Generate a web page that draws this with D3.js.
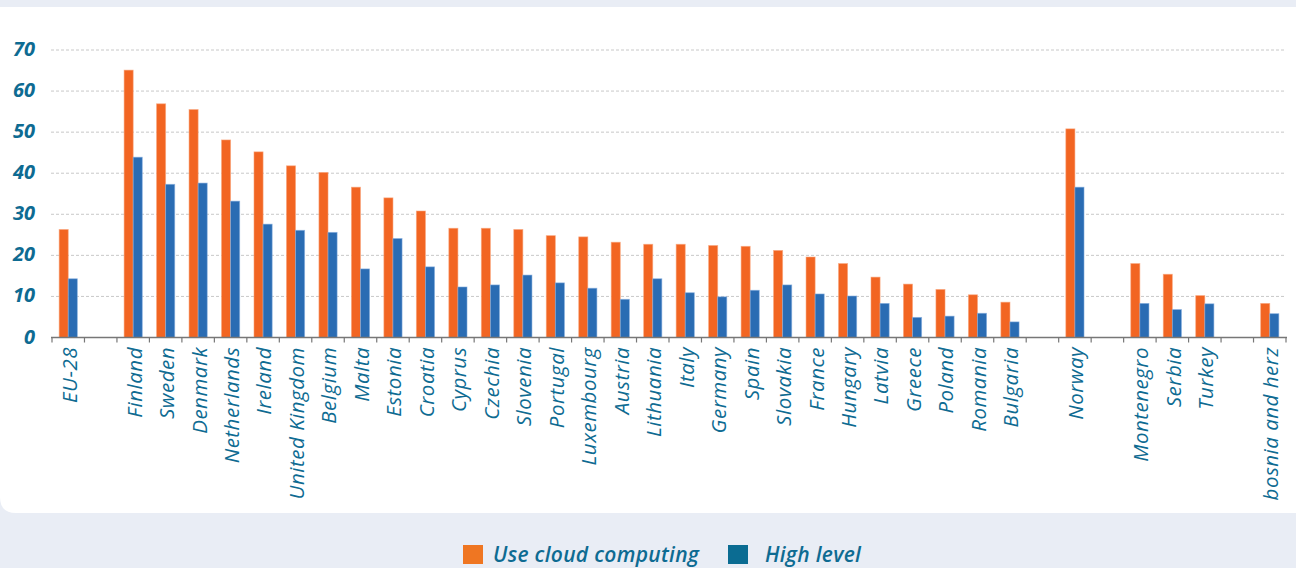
<!DOCTYPE html>
<html>
<head>
<meta charset="utf-8">
<script src="https://cdn.jsdelivr.net/npm/d3@7"></script>
<style>
  html, body { margin: 0; padding: 0; background: #e9edf5; }
  svg { display: block; font-family: "Open Sans", "Noto Sans", sans-serif; }
</style>
</head>
<body>
<svg id="chart" width="1296" height="568"></svg>
<script>
// categories ("" entries are the empty separator slots)
const categories = [
  'EU-28', '',
  'Finland', 'Sweden', 'Denmark', 'Netherlands', 'Ireland', 'United Kingdom',
  'Belgium', 'Malta', 'Estonia', 'Croatia', 'Cyprus', 'Czechia', 'Slovenia',
  'Portugal', 'Luxembourg', 'Austria', 'Lithuania', 'Italy', 'Germany', 'Spain',
  'Slovakia', 'France', 'Hungary', 'Latvia', 'Greece', 'Poland', 'Romania',
  'Bulgaria', '', 'Norway', '', 'Montenegro', 'Serbia', 'Turkey', '',
  'bosnia and herz'
];

const cloudValues = [
  26.3, null,
  65.1, 56.9, 55.5, 48.1, 45.2, 41.8,
  40.2, 36.6, 34.0, 30.8, 26.6, 26.6, 26.3,
  24.8, 24.5, 23.2, 22.7, 22.7, 22.4, 22.2,
  21.2, 19.6, 18.0, 14.7, 13.0, 11.7, 10.4,
  8.6, null, 50.8, null, 18.0, 15.4, 10.2, null,
  8.3
];

const highValues = [
  14.3, null,
  43.9, 37.3, 37.6, 33.2, 27.6, 26.1,
  25.6, 16.7, 24.1, 17.2, 12.3, 12.8, 15.2,
  13.3, 12.0, 9.3, 14.3, 10.9, 9.9, 11.5,
  12.8, 10.6, 10.1, 8.3, 4.9, 5.2, 5.9,
  3.8, null, 36.6, null, 8.3, 6.8, 8.2, null,
  5.8
];

const yTicks = [0, 10, 20, 30, 40, 50, 60, 70];
const seriesNames = ['Use cloud computing', 'High level'];

const textColor = '#0e6b92';
const barColors = ['#f26522', '#2a6cb3'];
const legendColors = ['#ef7622', '#0b6c92'];

const svg = d3.select('#chart');

// white panel with a rounded bottom-left corner
svg.append('path')
  .attr('d', 'M0,7 H1296 V513 H16 Q0,513 0,497 Z')
  .attr('fill', '#ffffff');

const slots = categories.map((c, i) => i);

const x = d3.scaleBand()
  .domain(slots)
  .range([52, 1286])
  .padding(0);

const y = d3.scaleLinear()
  .domain([0, 70])
  .range([337.5, 50]);

// dashed gridlines
svg.append('g')
  .selectAll('line')
  .data(yTicks.filter((t) => t > 0))
  .join('line')
  .attr('x1', 51)
  .attr('x2', 1286)
  .attr('y1', (d) => y(d))
  .attr('y2', (d) => y(d))
  .attr('stroke', '#c8c8c8')
  .attr('stroke-width', 1)
  .attr('stroke-dasharray', '3,2');

// y labels
svg.append('g')
  .selectAll('text')
  .data(yTicks)
  .join('text')
  .attr('x', 35)
  .attr('y', (d) => y(d) - 1)
  .attr('dy', '0.35em')
  .attr('text-anchor', 'end')
  .attr('fill', textColor)
  .attr('font-size', '20px')
  .attr('font-style', 'italic')
  .attr('font-weight', 'bold')
  .text((d) => d);

// bars
const bw = x.bandwidth() * 0.28;
const series = [cloudValues, highValues];

series.forEach((vals, s) => {
  svg.append('g')
    .selectAll('rect')
    .data(slots.filter((i) => vals[i] != null))
    .join('rect')
    .attr('x', (i) => x(i) + x.bandwidth() / 2 - bw + s * bw)
    .attr('y', (i) => y(vals[i]))
    .attr('width', bw)
    .attr('height', (i) => y(0) - y(vals[i]))
    .attr('fill', barColors[s])
    .attr('stroke', s === 0 ? '#f9a57c' : '#86aede')
    .attr('stroke-width', 0.8)
    .attr('stroke-opacity', 0.7);
});

// x axis line and boundary ticks
const axis = svg.append('g');
axis.append('line')
  .attr('x1', 51)
  .attr('x2', 1287)
  .attr('y1', y(0))
  .attr('y2', y(0))
  .attr('stroke', '#777')
  .attr('stroke-width', 1.5);

axis.selectAll('line.tick')
  .data(slots.map((i) => x(i)).concat([x.range()[1]]))
  .join('line')
  .attr('class', 'tick')
  .attr('x1', (d) => d)
  .attr('x2', (d) => d)
  .attr('y1', y(0))
  .attr('y2', y(0) + 5)
  .attr('stroke', '#777')
  .attr('stroke-width', 1.2);

// rotated category labels
svg.append('g')
  .selectAll('text')
  .data(slots.filter((i) => categories[i] !== ''))
  .join('text')
  .attr('transform', (i) => `translate(${x(i) + x.bandwidth() / 2 + 1},347) rotate(-90)`)
  .attr('dy', '0.36em')
  .attr('text-anchor', 'end')
  .attr('fill', textColor)
  .attr('font-size', '20.5px')
  .attr('letter-spacing', '0.5px')
  .attr('font-style', 'italic')
  .text((i) => categories[i]);

// legend
const legendX = [463, 728];
const legendTextX = [30, 37];
const legend = svg.append('g')
  .selectAll('g')
  .data(seriesNames)
  .join('g')
  .attr('transform', (d, i) => `translate(${legendX[i]},545)`);

legend.append('rect')
  .attr('width', 20)
  .attr('height', 19)
  .attr('fill', (d, i) => legendColors[i]);

legend.append('text')
  .attr('x', (d, i) => legendTextX[i])
  .attr('y', 10)
  .attr('dy', '0.35em')
  .attr('fill', textColor)
  .attr('font-size', '21px')
  .attr('letter-spacing', '0.3px')
  .attr('font-style', 'italic')
  .attr('font-weight', '600')
  .text((d) => d);
</script>
</body>
</html>
